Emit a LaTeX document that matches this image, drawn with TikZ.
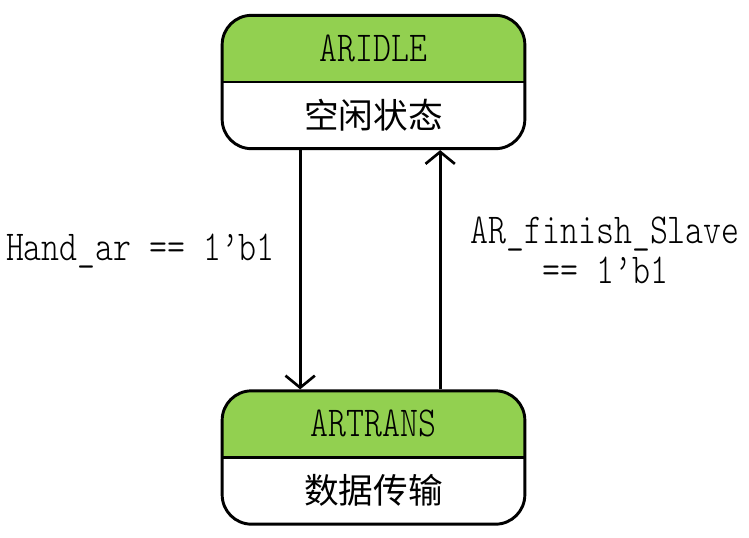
\documentclass[tikz,border=0pt]{standalone}
\usepackage{fontspec}
\usepackage{tikz}
\usepackage{xcolor}
\usetikzlibrary{arrows.meta}
\newfontfamily\cjk{Noto Sans CJK SC}
\newfontfamily\codefont{lmmonolt10-regular.otf}[FakeStretch=0.8]
\definecolor{stategreen}{RGB}{146,208,80}

\begin{document}
\begin{tikzpicture}[x=0.75pt,y=-0.75pt]
        \tikzstyle{state}=[draw=black,line width=2.2pt,rounded corners=22pt,
        minimum width=227pt,minimum height=100pt,inner sep=0pt,
        path picture={\fill[stategreen,sharp corners] (path picture bounding box.north west) rectangle (path picture bounding box.east);
        \draw[line width=2.2pt,sharp corners] (path picture bounding box.west) -- (path picture bounding box.east);}]
        \tikzstyle{title}=[font=\codefont\fontsize{32}{30}\selectfont,inner sep=0pt]
        \tikzstyle{info}=[font=\cjk\fontsize{26}{30}\selectfont,inner sep=0pt]
        \tikzstyle{cond}=[font=\codefont\fontsize{32}{30}\selectfont,align=center,inner sep=0pt]
        \useasboundingbox (0,0) rectangle (749,537);
        \node at (373.5,82) [state] (idle) {};
        \node at (373.5,457.5) [state] (trans) {};
        \node at (373.5,48) [title] (idlename) {ARIDLE};
        \node at (373.5,115) [info] (idleinfo) {空闲状态};
        \node at (373.5,423) [title] (transname) {ARTRANS};
        \node at (373.5,490) [info] (transinfo) {数据传输};
        \draw[line width=2pt,-{Straight Barb[length=9pt,width=22pt]}] ([xshift=-55pt]idle.south) -- node[pos=0.42,left=18pt,cond] {Hand\_ar == 1’b1} ([xshift=-55pt]trans.north);
        \draw[line width=2pt,-{Straight Barb[length=9pt,width=22pt]}] ([xshift=50pt]trans.north) -- node[pos=0.58,right=22pt,cond] {AR\_finish\_Slave\\== 1’b1} ([xshift=50pt]idle.south);
        %\draw (idle.east) -- (trans.east);
\end{tikzpicture}
\end{document}
